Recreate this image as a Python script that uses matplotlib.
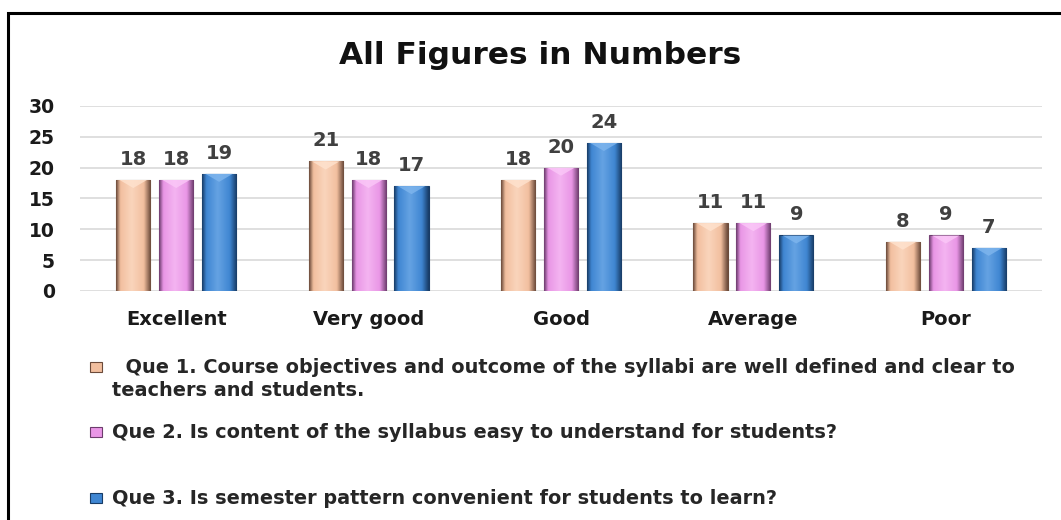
#!/usr/bin/env python3
"""Survey responses: all figures in numbers, grouped bars."""

import matplotlib
matplotlib.use("Agg")

import matplotlib.pyplot as plt
import numpy as np
from matplotlib.colors import to_rgb
from matplotlib.patches import Polygon, Rectangle

categories = ["Excellent", "Very good", "Good", "Average", "Poor"]
que1 = [18, 21, 18, 11, 8]
que2 = [18, 18, 20, 11, 9]
que3 = [19, 17, 24, 9, 7]
series_labels = [
    "  Que 1. Course objectives and outcome of the syllabi are well defined and clear to\nteachers and students.",
    "Que 2. Is content of the syllabus easy to understand for students?",
    "Que 3. Is semester pattern convenient for students to learn?",
]
y_ticks = [0, 5, 10, 15, 20, 25, 30]

COLORS = ["#f2bf9f", "#e996e6", "#3f86d2"]
DARK = ["#6b4a3a", "#6d3c6d", "#183c66"]
LIGHT = ["#ffe3cf", "#fbc8f8", "#7fb6ee"]

W, H = 1061, 520


def shade(base, dark, light, n=64):
    b, d, l = np.array(to_rgb(base)), np.array(to_rgb(dark)), np.array(to_rgb(light))
    t = np.linspace(0, 1, n)
    out = np.zeros((1, n, 3))
    for i, v in enumerate(t):
        if v < 0.12:
            c = d + (b - d) * (v / 0.12)
        elif v < 0.45:
            c = b + (l - b) * ((v - 0.12) / 0.33) * 0.6
        elif v < 0.8:
            c = b + (l - b) * 0.6 * (1 - (v - 0.45) / 0.35)
        else:
            c = b + (d - b) * ((v - 0.8) / 0.2)
        out[0, i] = np.clip(c, 0, 1)
    return out


def main() -> None:
    fig = plt.figure(figsize=(W / 100, H / 100), dpi=100)
    fig.patch.set_facecolor("white")

    # outer frame
    fig.add_artist(Rectangle((8 / W, -0.05), 1.1, (H - 13) / H + 0.05, transform=fig.transFigure,
                             fill=False, edgecolor="black", linewidth=2.2))

    ax = fig.add_axes([80 / W, (H - 291) / H, 962 / W, 185 / H])
    x = np.arange(len(categories))
    bw, step = 0.177, 0.223
    for k, vals in enumerate([que1, que2, que3]):
        bars = ax.bar(x + (k - 1) * step, vals, width=bw, color=COLORS[k],
                      edgecolor=DARK[k], linewidth=0.8, zorder=3)
        grad = shade(COLORS[k], DARK[k], LIGHT[k])
        for b, v in zip(bars, vals):
            x0, w, h = b.get_x(), b.get_width(), b.get_height()
            im = ax.imshow(grad, extent=(x0, x0 + w, 0, h), aspect="auto", zorder=3.5,
                           interpolation="bicubic")
            im.set_clip_path(b)
            tri = Polygon([(x0 + w * 0.1, h), (x0 + w * 0.9, h), (x0 + w / 2, h - 1.3)],
                          closed=True, facecolor=LIGHT[k], edgecolor="none", alpha=0.8, zorder=4)
            ax.add_patch(tri)
            ax.text(x0 + w / 2, h + 1.8, f"{v}", ha="center", va="bottom",
                    fontsize=14, fontweight="bold", color="#404040", family="DejaVu Sans")

    ax.set_xlim(-0.5, len(categories) - 0.5)
    ax.set_ylim(0, 30)
    ax.set_yticks(y_ticks)
    ax.set_yticklabels([str(t) for t in y_ticks], fontsize=13.5, fontweight="bold",
                       family="DejaVu Sans", color="#1a1a1a")
    ax.set_xticks(x)
    ax.set_xticklabels(categories, fontsize=14, fontweight="bold", family="DejaVu Sans",
                       color="#1a1a1a")
    ax.tick_params(axis="y", length=0, pad=18)
    ax.tick_params(axis="x", length=0, pad=14)
    ax.grid(axis="y", color="#d9d9d9", linewidth=1.2, zorder=0)
    for s in ax.spines.values():
        s.set_visible(False)
    ax.set_facecolor("none")

    fig.text(540 / W, 1 - 55 / H, "All Figures in Numbers", ha="center", va="center",
             fontsize=22.5, fontweight="bold", family="DejaVu Sans", color="#111111")

    # legend
    rows = [(367, 112), (432, 112), (498, 112)]
    for k, (lbl, (yy, xx)) in enumerate(zip(series_labels, rows)):
        fig.add_artist(Rectangle((90 / W, 1 - (yy + 5) / H), 12 / W, 10 / H,
                                 transform=fig.transFigure, facecolor=COLORS[k],
                                 edgecolor=DARK[k], linewidth=0.8))
        fig.text(xx / W, 1 - (yy - 9) / H, lbl, ha="left", va="top", fontsize=13.9,
                 fontweight="bold", family="DejaVu Sans", color="#262626", linespacing=1.3)

    fig.savefig("out.png", dpi=100)


if __name__ == "__main__":
    main()
